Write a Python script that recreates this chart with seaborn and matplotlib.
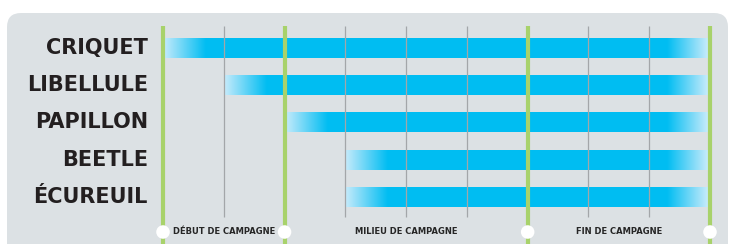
import matplotlib
matplotlib.use("Agg")
import matplotlib.pyplot as plt
import numpy as np
import seaborn as sns
from matplotlib.colors import LinearSegmentedColormap
from matplotlib.patches import FancyBboxPatch

# Data
species = ["CRIQUET", "LIBELLULE", "PAPILLON", "BEETLE", "ÉCUREUIL"]
starts = [0, 1, 2, 3, 3]
ends = [9, 9, 9, 9, 9]
minor_marks = [1, 3, 4, 5, 7, 8]
phase_marks = [0, 2, 6, 9]
phase_labels = ["DÉBUT DE CAMPAGNE", "MILIEU DE CAMPAGNE", "FIN DE CAMPAGNE"]
label_pos = [1, 4, 7.5]

BAR = "#00bdf2"
LIGHT = "#c8ebfb"
PANEL = "#dce1e4"
GREEN = "#a8d26b"
GRAY = "#a3a6a9"
INK = "#231f20"

W, H = 731, 244
X0, PPU_X = 163, (710 - 163) / 9
Y0, PPU_Y = 47.7, 37.3

sns.set_theme(style="white")

fig = plt.figure(figsize=(W / 100, H / 100), dpi=100)
fig.patch.set_facecolor("white")
ax = fig.add_axes([0, 0, 1, 1])

sns.barplot(x=ends, y=species, orient="h", color=BAR, width=20 / PPU_Y,
            saturation=1, ax=ax, zorder=2)
for patch, s, e in zip(ax.patches, starts, ends):
    patch.set_x(s)
    patch.set_width(e - s)
    patch.set_edgecolor("none")

ax.axis("off")

# panel background (pixel coords, origin bottom-left)
panel = FancyBboxPatch((7, -60), 721, H - 13 + 60,
                       boxstyle="round,pad=0,rounding_size=14",
                       transform=None, facecolor=PANEL, edgecolor="none", zorder=0)
ax.add_artist(panel)

# fades at both ends of the bars
half = 10 / PPU_Y
fade_in = LinearSegmentedColormap.from_list("fin", [LIGHT, BAR])
fade_out = LinearSegmentedColormap.from_list("fout", [BAR, LIGHT])
grad = np.linspace(0, 1, 256).reshape(1, -1)
for i, (s, e) in enumerate(zip(starts, ends)):
    ax.imshow(grad, cmap=fade_in, aspect="auto", zorder=3,
              extent=[s, s + 0.7, i + half, i - half])
    ax.imshow(grad, cmap=fade_out, aspect="auto", zorder=3,
              extent=[e - 0.7, e - 0.04, i + half, i - half])
ax.set_xlim(-X0 / PPU_X, (W - X0) / PPU_X)
ax.set_ylim((H - Y0) / PPU_Y, -Y0 / PPU_Y)

top = (26 - Y0) / PPU_Y
ax.vlines(minor_marks, top, (217 - Y0) / PPU_Y, color=GRAY, lw=0.9, zorder=4)
ax.vlines(phase_marks, top, 6, color=GREEN, lw=3, zorder=5)

yb = (232 - Y0) / PPU_Y
ax.scatter(phase_marks, [yb] * len(phase_marks), s=95, color="white",
           edgecolor="none", zorder=6)
for xm, lab in zip(label_pos, phase_labels):
    ax.text(xm, yb, lab, ha="center", va="center", fontsize=6,
            fontweight="bold", color="#262626", zorder=6,
            family=["Liberation Sans Narrow", "DejaVu Sans"])

for i, name in enumerate(species):
    ax.text((148 - X0) / PPU_X, i, name, ha="right", va="center",
            fontsize=15, fontweight="bold", color=INK, zorder=6,
            family=["DejaVu Sans"])

fig.savefig("out.png", dpi=100)
